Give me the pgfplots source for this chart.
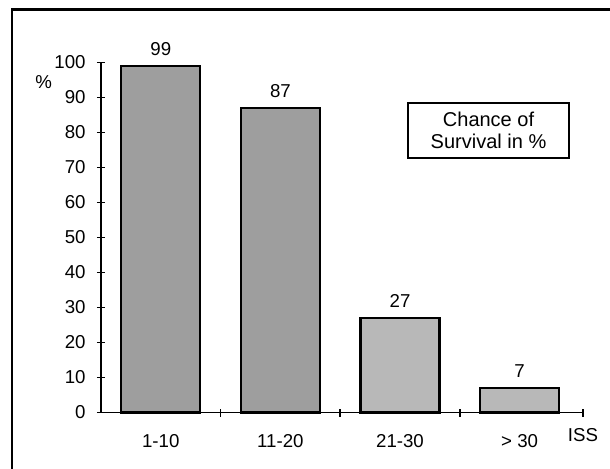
\documentclass[border=0pt]{standalone}
\usepackage{pgfplots}
\pgfplotsset{compat=1.18}
\usepackage{fontspec}
\setmainfont{Liberation Sans}

\begin{document}
\begin{tikzpicture}[font=\fontsize{14}{16.5}\selectfont]
\begin{axis}[
    at={(0,0)}, anchor=south west,
    scale only axis,
    width=361.5pt,
    height=262.5pt,
    ybar,
    bar width=0.66,
    bar shift=0pt,
    xmin=-0.5, xmax=3.53,
    ymin=0, ymax=100,
    axis x line*=bottom,
    axis y line*=left,
    axis line style={-, line width=1.3pt},
    xtick={0,1,2,3},
    xticklabels={1-10, 11-20, 21-30, {> 30}},
    major x tick style={draw=none},
    minor xtick={0.5,1.5,2.5,3.53},
    ytick={0,10,...,100},
    tick align=center,
    major tick length=6pt,
    minor tick length=6pt,
    tick style={line width=1.3pt, black},
    x tick label style={yshift=-10pt},
    y tick label style={xshift=-5pt},
    /pgf/number format/assume math mode=true,
    xlabel={ISS},
    xlabel style={at={(rel axis cs:1,0)}, anchor=center, yshift=-17pt},
    ylabel={\%},
    ylabel style={rotate=-90, at={(rel axis cs:-0.119,0.943)}, anchor=center},
    nodes near coords,
    every node near coord/.append style={black, yshift=4pt},
    clip=false,
]
\addplot[draw=black, line width=1.6pt, fill=black!38, bar shift=0pt] coordinates {(0,99) (1,87)};
\addplot[draw=black, line width=1.6pt, fill=black!28, bar shift=0pt] coordinates {(2,27) (3,7)};
\node[draw=black, line width=1pt, align=center, minimum width=120.75pt, minimum height=41.25pt, inner sep=1pt,
      font=\fontsize{15}{16.5}\selectfont]
    at (rel axis cs:0.804,0.806) {Chance of\\Survival in \%};
\end{axis}
% outer frame: only its left and top edges fall inside the picture
\draw[line width=2.2pt] (-66.75pt,-45pt) -- (-66.75pt,302.6pt) -- (385pt,302.6pt);
\pgfresetboundingbox
\useasboundingbox (-75.75pt,-41.6pt) rectangle (381.75pt,309.4pt);
\end{tikzpicture}
\end{document}
